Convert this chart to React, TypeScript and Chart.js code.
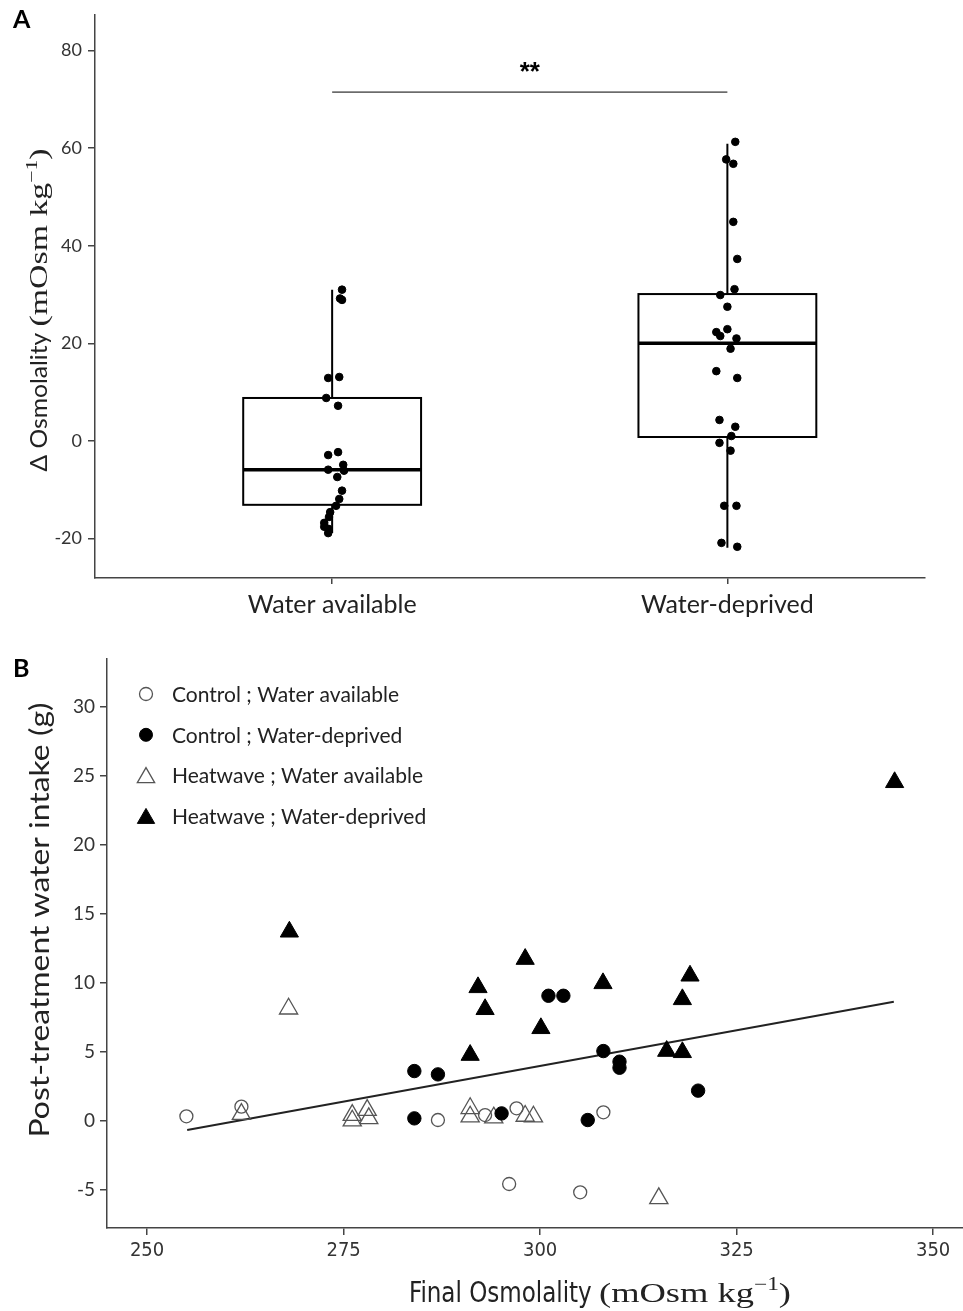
import React, { useEffect, useRef } from 'react';
import { Chart, registerables } from 'chart.js';

Chart.register(...registerables);

// ---------- Panel A data ----------
const groupLabels = ['Water available', 'Water-deprived'];
const groupPositions = [1, 2];
const boxQ1 = [-13.1, 0.8];
const boxMedian = [-5.9, 20.0];
const boxQ3 = [8.8, 30.1];
const whiskerLow = [-18.9, -21.9];
const whiskerHigh = [31.0, 60.9];

const availX = [1.025, 1.02, 1.025, 1.018, 0.99, 0.985, 1.015, 1.015, 0.99, 1.028, 0.99, 1.03, 1.013, 1.025, 1.018, 1.01, 0.995, 0.992, 0.98, 0.98, 0.99, 0.99];
const availY = [31.0, 29.2, 28.9, 13.1, 12.9, 8.8, 7.2, -2.3, -2.9, -4.9, -5.9, -6.1, -7.4, -10.2, -11.9, -13.3, -14.6, -15.6, -16.8, -17.6, -18.0, -18.9];

const deprivedX = [2.02, 1.997, 2.015, 2.015, 2.025, 2.018, 1.982, 2.0, 2.0, 1.972, 1.982, 2.023, 2.008, 1.972, 2.025, 1.98, 2.02, 2.01, 1.98, 2.008, 1.992, 2.023, 1.985, 2.025];
const deprivedY = [61.3, 57.7, 56.8, 44.9, 37.3, 31.1, 29.9, 27.5, 22.9, 22.3, 21.5, 21.0, 18.9, 14.3, 12.9, 4.3, 2.9, 1.0, -0.4, -2.0, -13.3, -13.3, -20.9, -21.7];

const yTicksA = [-20, 0, 20, 40, 60, 80];
const sigBarY = 71.5;
const sigLabel = '**';
const sigLabelY = 76.4;

// ---------- Panel B data ----------
const ctrlAvailX = [255.0, 262.0, 287.0, 293.0, 297.0, 308.05, 296.06, 305.1];
const ctrlAvailY = [0.3, 1.0, 0.03, 0.39, 0.88, 0.59, -4.61, -5.21];

const ctrlDepX = [284.0, 287.0, 284.0, 301.06, 302.96, 308.05, 310.1, 310.1, 320.1, 295.1, 306.06];
const ctrlDepY = [3.58, 3.34, 0.15, 9.04, 9.04, 5.03, 4.26, 3.82, 2.16, 0.51, 0.03];

const hwAvailX = [268.0, 262.0, 276.1, 276.1, 278.0, 278.2, 291.1, 291.1, 294.1, 298.1, 299.15, 315.1];
const hwAvailY = [8.1, 0.46, 0.39, -0.02, 0.75, 0.15, 0.88, 0.27, 0.2, 0.32, 0.27, -5.65];

const hwDepX = [268.1, 298.1, 292.1, 293.0, 308.0, 319.07, 318.1, 300.1, 291.1, 316.1, 318.1, 345.1];
const hwDepY = [13.68, 11.7, 9.65, 8.06, 9.94, 10.49, 8.78, 6.68, 4.74, 5.03, 4.94, 24.52];

const fitX = [255.1, 345.0];
const fitY = [-0.7, 8.6];

const xTicksB = [250, 275, 300, 325, 350];
const yTicksB = [-5, 0, 5, 10, 15, 20, 25, 30];

const legendLabels = [
  'Control ; Water available',
  'Control ; Water-deprived',
  'Heatwave ; Water available',
  'Heatwave ; Water-deprived',
];

// ---------- styles ----------
const SANS = "Lato, 'Open Sans', sans-serif";
const SERIF = "'Liberation Serif', 'DejaVu Serif', serif";
const NARROW = "'Liberation Sans Narrow', 'DejaVu Sans Condensed', Lato, sans-serif";
const TEXT = '#222';
const AXIS = '#444';

type Part = { text: string; font: string; rise?: number };
type Group = { parts: Part[]; width: number };

// draws groups of text runs, each group squeezed/stretched to its own width
function drawRich(
  ctx: CanvasRenderingContext2D,
  groups: Group[],
  cx: number,
  cy: number,
  rotate: boolean,
  baseline: number
) {
  ctx.save();
  ctx.translate(cx, cy);
  if (rotate) ctx.rotate(-Math.PI / 2);
  const total = groups.reduce((a, g) => a + g.width, 0);
  let x = -total / 2;
  ctx.textBaseline = 'alphabetic';
  ctx.textAlign = 'left';
  ctx.fillStyle = TEXT;
  groups.forEach((g) => {
    let natural = 0;
    const widths = g.parts.map((p) => {
      ctx.font = p.font;
      const w = ctx.measureText(p.text).width;
      natural += w;
      return w;
    });
    const sx = g.width / natural;
    ctx.save();
    ctx.translate(x, 0);
    ctx.scale(sx, 1);
    let px = 0;
    g.parts.forEach((p, i) => {
      ctx.font = p.font;
      ctx.fillText(p.text, px, baseline - (p.rise || 0));
      px += widths[i];
    });
    ctx.restore();
    x += g.width;
  });
  ctx.restore();
}

function drawMarker(
  ctx: CanvasRenderingContext2D,
  style: string,
  x: number,
  y: number,
  r: number,
  fill: string,
  stroke: string,
  lw: number
) {
  ctx.save();
  ctx.beginPath();
  if (style === 'triangle') {
    let rad = 0;
    const step = (2 * Math.PI) / 3;
    ctx.moveTo(x + Math.sin(rad) * r, y - Math.cos(rad) * r);
    rad += step;
    ctx.lineTo(x + Math.sin(rad) * r, y - Math.cos(rad) * r);
    rad += step;
    ctx.lineTo(x + Math.sin(rad) * r, y - Math.cos(rad) * r);
    ctx.closePath();
  } else {
    ctx.arc(x, y, r, 0, Math.PI * 2);
  }
  ctx.fillStyle = fill;
  ctx.fill();
  ctx.lineWidth = lw;
  ctx.strokeStyle = stroke;
  ctx.stroke();
  ctx.restore();
}

const toPts = (xs: number[], ys: number[]) => xs.map((x, i) => ({ x, y: ys[i] }));

const noPad = (s: any) => {
  s.paddingLeft = 0;
  s.paddingRight = 0;
  s.paddingTop = 0;
  s.paddingBottom = 0;
};

export default function App() {
  const refA = useRef<HTMLCanvasElement>(null);
  const refB = useRef<HTMLCanvasElement>(null);

  useEffect(() => {
    const boxHalf = 0.225;

    const boxPlugin = {
      id: 'boxes',
      beforeDatasetsDraw(chart: any) {
        const { ctx } = chart;
        const x = chart.scales.x;
        const y = chart.scales.y;
        ctx.save();
        ctx.strokeStyle = '#000';
        groupPositions.forEach((g, i) => {
          const cx = x.getPixelForValue(g);
          const l = x.getPixelForValue(g - boxHalf);
          const r = x.getPixelForValue(g + boxHalf);
          const yq1 = y.getPixelForValue(boxQ1[i]);
          const yq3 = y.getPixelForValue(boxQ3[i]);
          const ymed = y.getPixelForValue(boxMedian[i]);
          const ylo = y.getPixelForValue(whiskerLow[i]);
          const yhi = y.getPixelForValue(whiskerHigh[i]);
          ctx.lineWidth = 2;
          ctx.beginPath();
          ctx.moveTo(cx, yq3);
          ctx.lineTo(cx, yhi);
          ctx.moveTo(cx, yq1);
          ctx.lineTo(cx, ylo);
          ctx.stroke();
          ctx.strokeRect(l, yq3, r - l, yq1 - yq3);
          ctx.lineWidth = 3.5;
          ctx.beginPath();
          ctx.moveTo(l, ymed);
          ctx.lineTo(r, ymed);
          ctx.stroke();
        });
        ctx.restore();
      },
      afterDraw(chart: any) {
        const { ctx } = chart;
        const x = chart.scales.x;
        const y = chart.scales.y;
        ctx.save();
        ctx.fillStyle = '#000';
        ctx.font = `bold 26px 'Liberation Sans', 'DejaVu Sans', sans-serif`;
        ctx.textAlign = 'center';
        ctx.textBaseline = 'middle';
        const mid = (groupPositions[0] + groupPositions[1]) / 2;
        ctx.fillText(sigLabel, x.getPixelForValue(mid), y.getPixelForValue(sigLabelY) + 5);
        ctx.font = `bold 25px ${SANS}`;
        ctx.textAlign = 'left';
        ctx.textBaseline = 'middle';
        ctx.fillStyle = '#000';
        ctx.fillText('A', 13, 20);
        ctx.restore();
        drawRich(
          ctx,
          [
            { parts: [{ text: 'Δ Osmolality ', font: `24px ${SANS}` }], width: 145 },
            {
              parts: [
                { text: '(mOsm kg', font: `25px ${SERIF}` },
                { text: '−1', font: `16px ${SERIF}`, rise: 10 },
                { text: ')', font: `25px ${SERIF}` },
              ],
              width: 178,
            },
          ],
          38,
          310,
          true,
          9
        );
      },
    };

    const chartA = new Chart(refA.current as HTMLCanvasElement, {
      type: 'scatter',
      data: {
        datasets: [
          {
            data: toPts(availX, availY),
            backgroundColor: '#000',
            borderColor: '#000',
            pointRadius: 3.8,
            pointHoverRadius: 3.8,
          },
          {
            data: toPts(deprivedX, deprivedY),
            backgroundColor: '#000',
            borderColor: '#000',
            pointRadius: 3.8,
            pointHoverRadius: 3.8,
          },
          {
            data: [
              { x: groupPositions[0], y: sigBarY },
              { x: groupPositions[1], y: sigBarY },
            ],
            showLine: true,
            borderColor: '#000',
            borderWidth: 1,
            pointRadius: 0,
          } as any,
        ],
      },
      options: {
        responsive: false,
        animation: false,
        events: [],
        layout: { autoPadding: false, padding: { top: 15, right: 38, left: 0, bottom: 0 } },
        plugins: { legend: { display: false }, tooltip: { enabled: false } },
        scales: {
          x: {
            type: 'linear',
            min: 0.4,
            max: 2.5,
            afterBuildTicks: (s: any) => {
              s.ticks = groupPositions.map((v) => ({ value: v }));
            },
            afterFit: (s: any) => {
              s.height = 62;
              noPad(s);
            },
            ticks: {
              callback: (v: any) => {
                const i = groupPositions.indexOf(Number(v));
                return i >= 0 ? groupLabels[i] : '';
              },
              font: { family: SANS, size: 25 },
              color: TEXT,
              padding: 6,
              maxRotation: 0,
              autoSkip: false,
            },
            grid: { drawOnChartArea: false, tickLength: 6, color: AXIS, lineWidth: 1.5 },
            border: { color: AXIS, width: 1.5 },
          },
          y: {
            min: -28.1,
            max: 87.3,
            afterBuildTicks: (s: any) => {
              s.ticks = yTicksA.map((v) => ({ value: v }));
            },
            afterFit: (s: any) => {
              s.width = 95;
              noPad(s);
            },
            ticks: {
              font: { family: SANS, size: 18 },
              color: '#333',
              padding: 6,
              autoSkip: false,
            },
            grid: { drawOnChartArea: false, tickLength: 7, color: AXIS, lineWidth: 1.5 },
            border: { color: AXIS, width: 1.5 },
          },
        },
      } as any,
      plugins: [boxPlugin],
    });

    // ---------- Panel B ----------
    const openFill = 'rgba(0,0,0,0)';
    const openStroke = '#555';
    const markerDefs = [
      { style: 'circle', r: 6.5, fill: openFill, stroke: openStroke, lw: 1.3 },
      { style: 'circle', r: 6.7, fill: '#000', stroke: '#000', lw: 1 },
      { style: 'triangle', r: 10.5, fill: openFill, stroke: openStroke, lw: 1.3 },
      { style: 'triangle', r: 10.5, fill: '#000', stroke: '#000', lw: 1 },
    ];
    const seriesB = [
      toPts(ctrlAvailX, ctrlAvailY),
      toPts(ctrlDepX, ctrlDepY),
      toPts(hwAvailX, hwAvailY),
      toPts(hwDepX, hwDepY),
    ];

    const legendPlugin = {
      id: 'legendB',
      afterDraw(chart: any) {
        const { ctx, chartArea } = chart;
        legendLabels.forEach((label, i) => {
          const m = markerDefs[i];
          const cy = chartArea.top + 35 + i * 40.8;
          const mx = chartArea.left + 39;
          drawMarker(ctx, m.style, mx, m.style === 'triangle' ? cy + 2 : cy, m.style === 'triangle' ? 10 : 6.5, m.fill, m.stroke, m.lw);
          ctx.save();
          ctx.fillStyle = TEXT;
          ctx.font = `21px ${SANS}`;
          ctx.textAlign = 'left';
          ctx.textBaseline = 'middle';
          ctx.fillText(label, chartArea.left + 65, cy + 1);
          ctx.restore();
        });
        ctx.save();
        ctx.font = `bold 25px ${SANS}`;
        ctx.fillStyle = '#000';
        ctx.textAlign = 'left';
        ctx.textBaseline = 'middle';
        ctx.fillText('B', 13, 29);
        ctx.restore();
        drawRich(
          ctx,
          [{ parts: [{ text: 'Post-treatment water intake (g)', font: `27px ${SANS}` }], width: 435 }],
          40,
          280,
          true,
          9
        );
        drawRich(
          ctx,
          [
            { parts: [{ text: 'Final Osmolality ', font: `28px ${NARROW}` }], width: 190 },
            {
              parts: [
                { text: '(mOsm kg', font: `28px ${SERIF}` },
                { text: '−1', font: `18px ${SERIF}`, rise: 12 },
                { text: ')', font: `28px ${SERIF}` },
              ],
              width: 192,
            },
          ],
          600,
          653,
          false,
          9
        );
      },
    };

    const chartB = new Chart(refB.current as HTMLCanvasElement, {
      type: 'scatter',
      data: {
        datasets: [
          ...seriesB.map((pts, i) => ({
            label: legendLabels[i],
            data: pts,
            pointStyle: markerDefs[i].style,
            pointRadius: markerDefs[i].r,
            pointHoverRadius: markerDefs[i].r,
            backgroundColor: markerDefs[i].fill,
            borderColor: markerDefs[i].stroke,
            pointBorderWidth: markerDefs[i].lw,
          })),
          {
            label: 'fit',
            data: toPts(fitX, fitY),
            showLine: true,
            borderColor: '#222',
            borderWidth: 2,
            pointRadius: 0,
          } as any,
        ],
      },
      options: {
        responsive: false,
        animation: false,
        events: [],
        layout: { autoPadding: false, padding: { top: 19, right: 0, left: 0, bottom: 0 } },
        plugins: { legend: { display: false }, tooltip: { enabled: false } },
        scales: {
          x: {
            type: 'linear',
            min: 244.9,
            max: 353.8,
            afterBuildTicks: (s: any) => {
              s.ticks = xTicksB.map((v) => ({ value: v }));
            },
            afterFit: (s: any) => {
              s.height = 83;
              noPad(s);
            },
            ticks: {
              font: { family: NARROW, size: 20 },
              color: '#333',
              padding: 4,
              maxRotation: 0,
              autoSkip: false,
            },
            grid: { drawOnChartArea: false, tickLength: 7, color: AXIS, lineWidth: 1.5 },
            border: { color: AXIS, width: 1.5 },
          },
          y: {
            min: -7.8,
            max: 33.46,
            afterBuildTicks: (s: any) => {
              s.ticks = yTicksB.map((v) => ({ value: v }));
            },
            afterFit: (s: any) => {
              s.width = 107;
              noPad(s);
            },
            ticks: {
              font: { family: SANS, size: 19 },
              color: '#333',
              padding: 5,
              autoSkip: false,
            },
            grid: { drawOnChartArea: false, tickLength: 7, color: AXIS, lineWidth: 1.5 },
            border: { color: AXIS, width: 1.5 },
          },
        },
      } as any,
      plugins: [legendPlugin],
    });

    return () => {
      chartA.destroy();
      chartB.destroy();
    };
  }, []);

  return (
    <div style={{ position: 'absolute', left: 0, top: 0, width: 963, height: 1311, background: '#fff' }}>
      <canvas ref={refA} width={963} height={640} style={{ display: 'block' }} />
      <canvas ref={refB} width={963} height={671} style={{ display: 'block' }} />
    </div>
  );
}
